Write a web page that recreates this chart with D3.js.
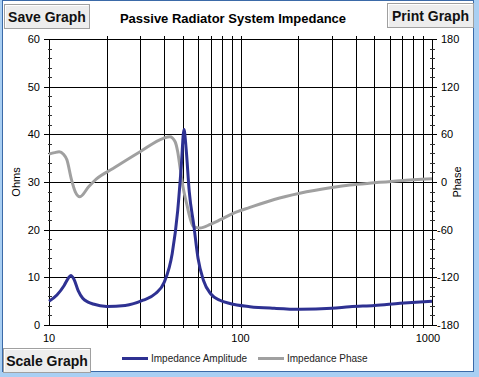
<!DOCTYPE html>
<html>
<head>
<meta charset="utf-8">
<script src="https://cdn.jsdelivr.net/npm/d3@7"></script>
<style>
  html, body { margin: 0; padding: 0; background: #a9cff3; }
  svg { display: block; font-family: "Liberation Sans", Arial, sans-serif; }
</style>
</head>
<body>
<div id="chart"></div>
<script>
// --- données ---
const ampFreq = [10, 11, 12, 12.6, 13, 13.5, 14.2, 15, 16, 17, 20, 25, 31, 36, 40, 44, 47, 49, 50.7, 52, 54, 57, 60, 64, 70, 78, 88, 112, 150, 204, 300, 372, 500, 681, 1000];
const ampOhms = [5.0, 6.3, 8.3, 9.8, 10.4, 9.6, 7.2, 5.6, 4.8, 4.4, 3.9, 4.1, 5.2, 6.6, 9.0, 15, 24, 33, 41, 37, 28, 21, 14, 9.4, 6.5, 5.2, 4.5, 3.85, 3.5, 3.3, 3.5, 3.85, 4.1, 4.55, 5.0];

const phaseFreq = [10, 10.7, 11.3, 11.9, 12.4, 13.1, 13.7, 14.5, 16.1, 17.7, 21.6, 29.9, 39.5, 42.8, 45.5, 47, 48.3, 50, 52.3, 56.7, 61.3, 70, 78, 91.6, 112, 150, 204, 300, 372, 500, 681, 1000];
const phaseDeg = [35, 37, 38, 35, 28, 3, -12, -18.5, -6, 4, 17, 38, 55, 57, 51, 38, 19, -5, -27, -56, -58, -53, -47.8, -39.4, -32, -22, -14.2, -7, -3.8, -1, 1.7, 4];

const freqTicks = [10, 100, 1000];
const ohmTicks = [0, 10, 20, 30, 40, 50, 60];
const phaseTicks = [-180, -120, -60, 0, 60, 120, 180];

const W = 479, H = 377;
const plot = {left: 49, right: 432, top: 39, bottom: 325};

const svg = d3.select("#chart").append("svg").attr("width", W).attr("height", H);

// cadre
svg.append("rect").attr("width", W).attr("height", H).attr("fill", "#a9cff3");
svg.append("rect").attr("x", 2.5).attr("y", 0.5).attr("width", 471).attr("height", 371)
    .attr("fill", "#fff").attr("stroke", "#3b6aa8");

// échelles
const x = d3.scaleLog().domain([10, 1000]).range([plot.left, plot.right]);
const y = d3.scaleLinear().domain([0, 60]).range([plot.bottom, plot.top]);
const y2 = d3.scaleLinear().domain([-180, 180]).range([plot.bottom, plot.top]);

// grille verticale (2..9 par décade)
const gridF = [];
for (let dec = 10; dec < 1000; dec *= 10)
    for (let k = 1; k <= 10; k++) gridF.push(dec * k);
svg.append("g").selectAll("line").data(gridF.slice(1, -1)).join("line")
    .attr("x1", d => Math.round(x(d)) + 0.5).attr("x2", d => Math.round(x(d)) + 0.5)
    .attr("y1", plot.top - 3).attr("y2", plot.bottom + 3)
    .attr("stroke", "#000");

// grille horizontale
svg.append("g").selectAll("line").data(ohmTicks).join("line")
    .attr("x1", plot.left - 5).attr("x2", plot.right + 5)
    .attr("y1", d => Math.round(y(d)) + 0.5).attr("y2", d => Math.round(y(d)) + 0.5)
    .attr("stroke", "#000");

// axes verticaux
svg.append("line").attr("x1", plot.left + 0.5).attr("x2", plot.left + 0.5)
    .attr("y1", plot.top).attr("y2", plot.bottom).attr("stroke", "#000");
svg.append("line").attr("x1", plot.right + 0.5).attr("x2", plot.right + 0.5)
    .attr("y1", plot.top).attr("y2", plot.bottom).attr("stroke", "#000");

// petites graduations
const minorL = d3.range(0, 61, 2).filter(d => d % 10 !== 0);
svg.append("g").selectAll("line").data(minorL).join("line")
    .attr("x1", plot.left - 1).attr("x2", plot.left + 3)
    .attr("y1", d => Math.round(y(d)) + 0.5).attr("y2", d => Math.round(y(d)) + 0.5)
    .attr("stroke", "#333");
const minorR = d3.range(-180, 181, 12).filter(d => d % 60 !== 0);
svg.append("g").selectAll("line").data(minorR).join("line")
    .attr("x1", plot.right - 2).attr("x2", plot.right + 3)
    .attr("y1", d => Math.round(y2(d)) + 0.5).attr("y2", d => Math.round(y2(d)) + 0.5)
    .attr("stroke", "#333");

// libellés des graduations
svg.append("g").selectAll("text").data(ohmTicks).join("text")
    .attr("x", 40).attr("y", d => y(d) + 4).attr("text-anchor", "end")
    .attr("font-size", 11).text(d => d);
svg.append("g").selectAll("text").data(phaseTicks).join("text")
    .attr("x", d => d < 0 ? 437 : 441).attr("y", d => y2(d) + 4)
    .attr("font-size", 11).text(d => d);
svg.append("g").selectAll("text").data(freqTicks).join("text")
    .attr("x", d => d === 1000 ? x(d) - 4 : x(d)).attr("y", 342).attr("text-anchor", "middle")
    .attr("font-size", 11).text(d => d);

svg.append("text").attr("transform", "translate(20,182) rotate(-90)")
    .attr("text-anchor", "middle").attr("font-size", 11).text("Ohms");
svg.append("text").attr("transform", "translate(461,182) rotate(-90)")
    .attr("text-anchor", "middle").attr("font-size", 11).text("Phase");

// courbes
const ampLine = d3.line().x(d => x(d[0])).y(d => y(d[1])).curve(d3.curveMonotoneX);
const phaseLine = d3.line().x(d => x(d[0])).y(d => y2(d[1])).curve(d3.curveMonotoneX);

svg.append("path").datum(d3.zip(phaseFreq, phaseDeg))
    .attr("d", phaseLine).attr("fill", "none").attr("stroke", "#a0a0a0").attr("stroke-width", 3);
svg.append("path").datum(d3.zip(ampFreq, ampOhms))
    .attr("d", ampLine).attr("fill", "none").attr("stroke", "#2e3192").attr("stroke-width", 3);

// titre
svg.append("text").attr("x", 233).attr("y", 23).attr("text-anchor", "middle")
    .attr("font-size", 13).attr("font-weight", "bold").text("Passive Radiator System Impedance");

// boutons
function button(bx, by, bw, bh, label) {
    const g = svg.append("g");
    g.append("rect").attr("x", bx + 0.5).attr("y", by + 0.5).attr("width", bw).attr("height", bh)
        .attr("fill", "#ededed").attr("stroke", "#a0a0a0");
    g.append("path").attr("d", `M${bx + 1.5},${by + bh - 0.5}V${by + 1.5}H${bx + bw - 0.5}`)
        .attr("fill", "none").attr("stroke", "#fff");
    g.append("text").attr("x", bx + bw / 2 + 0.5).attr("y", by + bh / 2 + 5.5).attr("text-anchor", "middle")
        .attr("font-size", 14).attr("font-weight", "bold").attr("fill", "#111").text(label);
}
button(4, 4, 85, 24, "Save Graph");
button(387, 3, 86, 24, "Print Graph");
button(3, 348, 87, 24, "Scale Graph");

// légende
const legend = [
    {label: "Impedance Amplitude", color: "#2e3192", x0: 122},
    {label: "Impedance Phase", color: "#a0a0a0", x0: 258}
];
const lg = svg.append("g").selectAll("g").data(legend).join("g");
lg.append("line").attr("x1", d => d.x0).attr("x2", d => d.x0 + 26)
    .attr("y1", 358.5).attr("y2", 358.5).attr("stroke", d => d.color).attr("stroke-width", 3);
lg.append("text").attr("x", d => d.x0 + 29).attr("y", 362).attr("font-size", 10)
    .attr("fill", "#222").text(d => d.label);
</script>
</body>
</html>
